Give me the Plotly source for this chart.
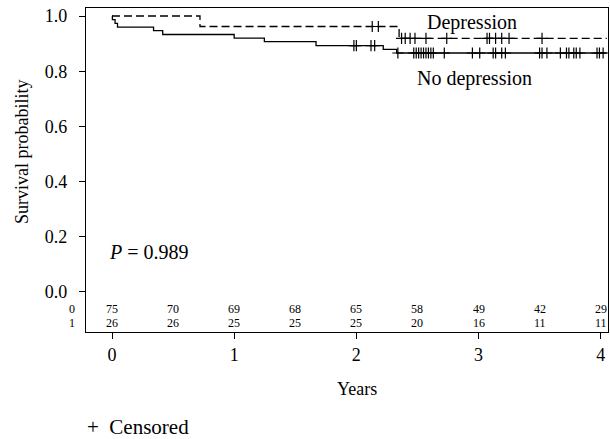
import plotly.graph_objects as go

# ---- data ----
nodep_times = [0.0, 0.003, 0.025, 0.045, 0.34, 0.415, 1.0, 1.247, 1.67, 2.22, 2.33]
nodep_surv = [1.0, 0.987, 0.973, 0.960, 0.947, 0.933, 0.920, 0.907, 0.893, 0.879, 0.866]
nodep_censor = [1.98, 2.00, 2.12, 2.15, 2.34, 2.47, 2.49, 2.51, 2.53, 2.55, 2.57, 2.59,
                2.61, 2.63, 2.72, 2.95, 3.01, 3.12, 3.14, 3.19, 3.22, 3.50, 3.52, 3.56,
                3.67, 3.72, 3.74, 3.78, 3.80, 3.83, 3.97, 3.99, 4.02]

dep_times = [0.0, 0.72, 2.35]
dep_surv = [1.0, 0.962, 0.919]
dep_censor = [2.13, 2.18, 2.37, 2.40, 2.44, 2.48, 2.57, 2.74, 3.07, 3.09, 3.14, 3.19,
              3.25, 3.52]

end_time = 4.05

risk_times = [0, 0.5, 1, 1.5, 2, 2.5, 3, 3.5, 4]
risk_group_labels = ["0", "1"]
risk_nodep = [75, 70, 69, 68, 65, 58, 49, 42, 29]
risk_dep = [26, 26, 25, 25, 25, 20, 16, 11, 11]

y_ticks = [0.0, 0.2, 0.4, 0.6, 0.8, 1.0]
x_ticks = [0, 1, 2, 3, 4]

FONT = "Liberation Serif"


def surv_at(times, surv, t):
    v = surv[0]
    for ti, si in zip(times, surv):
        if ti <= t:
            v = si
    return v


fig = go.Figure()

# curves
fig.add_trace(go.Scatter(x=nodep_times + [end_time], y=nodep_surv + [nodep_surv[-1]],
                         mode="lines", line=dict(color="black", width=1.3, shape="hv"),
                         showlegend=False, hoverinfo="skip"))
fig.add_trace(go.Scatter(x=dep_times + [end_time], y=dep_surv + [dep_surv[-1]],
                         mode="lines", line=dict(color="black", width=1.3, shape="hv",
                                                 dash="8px,4px"),
                         showlegend=False, hoverinfo="skip"))
# censor marks
fig.add_trace(go.Scatter(x=nodep_censor, y=[surv_at(nodep_times, nodep_surv, t) for t in nodep_censor],
                         mode="markers",
                         marker=dict(symbol="cross-thin", size=8, line=dict(color="black", width=1.2)),
                         showlegend=False, hoverinfo="skip"))
fig.add_trace(go.Scatter(x=dep_censor, y=[surv_at(dep_times, dep_surv, t) for t in dep_censor],
                         mode="markers",
                         marker=dict(symbol="cross-thin", size=8, line=dict(color="black", width=1.2)),
                         showlegend=False, hoverinfo="skip"))

W, H = 610, 439
L, R, T, B = 86, 2, 8, 107
pw, ph = W - L - R, H - T - B


def px_x(x):
    return (x - L) / pw


def px_y(y):
    return (H - B - y) / ph


ann = []
# curve labels
ann.append(dict(x=2.95, y=0.978, xref="x", yref="y", text="Depression", showarrow=False,
                xanchor="center", yanchor="middle",
                font=dict(family=FONT, size=20, color="black")))
ann.append(dict(x=2.97, y=0.775, xref="x", yref="y", text="No depression", showarrow=False,
                xanchor="center", yanchor="middle",
                font=dict(family=FONT, size=20, color="black")))
ann.append(dict(x=-0.045, y=0.146, xref="x", yref="y", text="<i>P</i> = 0.989", showarrow=False,
                xanchor="left", yanchor="middle", font=dict(family=FONT, size=20, color="black")))
# risk table
for t, a, b in zip(risk_times, risk_nodep, risk_dep):
    ann.append(dict(x=t, y=-0.062, xref="x", yref="y", text=str(a), showarrow=False,
                    xanchor="center", yanchor="middle",
                    font=dict(family=FONT, size=12, color="black")))
    ann.append(dict(x=t, y=-0.112, xref="x", yref="y", text=str(b), showarrow=False,
                    xanchor="center", yanchor="middle",
                    font=dict(family=FONT, size=12, color="black")))
for lab, yv in zip(risk_group_labels, [-0.062, -0.112]):
    ann.append(dict(x=px_x(72), y=yv, xref="paper", yref="y", text=lab, showarrow=False,
                    xanchor="center", yanchor="middle",
                    font=dict(family=FONT, size=12, color="black")))
# axis titles
ann.append(dict(x=px_x(357), y=px_y(389), xref="paper", yref="paper", text="Years",
                xanchor="center", yanchor="middle",
                showarrow=False, font=dict(family=FONT, size=18, color="black")))
ann.append(dict(x=px_x(22), y=px_y(152), xref="paper", yref="paper", text="Survival probability",
                xanchor="center", yanchor="middle",
                textangle=-90, showarrow=False, font=dict(family=FONT, size=18, color="black")))
# censored legend
ann.append(dict(x=px_x(85), y=px_y(427), xref="paper", yref="paper", text="+&nbsp;&nbsp;Censored",
                xanchor="left", yanchor="middle",
                showarrow=False, font=dict(family=FONT, size=21, color="black")))

fig.update_layout(
    width=W, height=H,
    margin=dict(l=L, r=R, t=T, b=B, autoexpand=False),
    paper_bgcolor="white", plot_bgcolor="white",
    annotations=ann,
    hovermode=False,
    xaxis=dict(range=[-0.213, 4.06], tickvals=x_ticks, ticktext=[str(v) for v in x_ticks],
               ticks="outside", ticklen=6, tickwidth=1.2, tickcolor="black",
               showline=True, linecolor="black", linewidth=1.4, mirror=True,
               showgrid=False, zeroline=False, automargin=False,
               tickfont=dict(family=FONT, size=18, color="black")),
    yaxis=dict(range=[-0.145, 1.029], tickvals=y_ticks, ticktext=["%.1f" % v for v in y_ticks],
               ticks="outside", ticklen=6, tickwidth=1.2, tickcolor="black",
               showline=True, linecolor="black", linewidth=1.4, mirror=True,
               showgrid=False, zeroline=False, automargin=False, ticklabelstandoff=8,
               tickfont=dict(family=FONT, size=18, color="black")),
)

fig.write_html("out.html", config={"displayModeBar": False},
               post_script="document.body.style.margin='0';document.body.style.overflow='hidden';")
